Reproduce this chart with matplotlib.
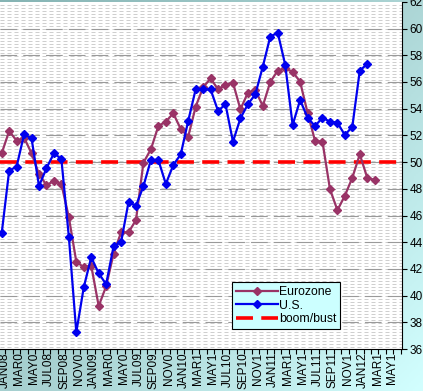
import numpy as np
import matplotlib
matplotlib.use("Agg")
import matplotlib.pyplot as plt
from matplotlib.colors import LinearSegmentedColormap

plt.rcParams['font.family'] = ['Liberation Sans', 'DejaVu Sans']

# monthly PMI readings, Jan 2008 onwards
eurozone = [50.66, 52.33, 51.6, 51.83, 50.66, 49.1, 48.28, 48.58, 48.36, 45.87,
            42.54, 42.12, 42.25, 39.22, 40.7, 43.15, 44.74, 44.74, 45.66, 49.96,
            50.96, 52.7, 53.03, 53.65, 52.48, 51.9, 54.15, 55.6, 56.27, 55.45,
            55.78, 55.95, 53.95, 55.2, 55.4, 54.2, 56.0, 56.85, 57.03, 56.77,
            56.02, 53.7, 51.6, 51.53, 47.98, 46.4, 47.48, 48.83, 50.58, 48.83,
            48.66]
us = [44.67, 49.36, 49.66, 52.08, 51.78, 48.21, 49.54, 50.66, 50.23, 44.41,
      37.25, 40.62, 42.87, 41.67, 40.85, 43.7, 44.0, 47.0, 46.73, 48.2,
      50.16, 50.16, 48.36, 49.78, 50.58, 53.08, 55.45, 55.45, 55.45, 53.83,
      54.33, 51.53, 53.28, 54.33, 55.08, 57.15, 59.4, 59.7, 57.3, 52.78,
      54.65, 53.33, 52.7, 53.33, 53.03, 52.95, 52.03, 52.65, 56.85, 57.35]
month_labels = ['JAN08', 'MAR0', 'MAY0', 'JUL08', 'SEP08', 'NOV0',
                'JAN09', 'MAR0', 'MAY0', 'JUL09', 'SEP09', 'NOV0',
                'JAN10', 'MAR1', 'MAY1', 'JUL10', 'SEP10', 'NOV1',
                'JAN11', 'MAR1', 'MAY1', 'JUL11', 'SEP11', 'NOV1',
                'JAN12', 'MAR1', 'MAY1']
n_months = 54
boom_bust = 50

W, H = 423, 391
fig = plt.figure(figsize=(W / 100, H / 100), dpi=100)

# gradient background (excel style teal fill)
bg = fig.add_axes([0, 0, 1, 1], zorder=-10)
xx, yy = np.meshgrid(np.linspace(0, 1, 200), np.linspace(0, 1, 200))
grad = 0.55 * xx + 0.45 * yy
cmap = LinearSegmentedColormap.from_list('tealfill', ['#86b4b4', '#a9d2d2', '#d2ffff'])
bg.imshow(grad, cmap=cmap, aspect='auto', extent=[0, 1, 0, 1], origin='upper')
bg.axis('off')

ax = fig.add_axes([0, (H - 349) / H, 402 / W, (349 - 1.9) / H])
ax.set_facecolor('white')
ax.set_xlim(-0.228, 53.66)
ax.set_ylim(36, 62)

# hatched pattern of the plot area
px_per_unit = 13.35
for k in range(1, 116):
    yv = 62 - (k * 3 - 0.3) / px_per_unit
    if yv <= 36:
        break
    ax.axhline(yv, color='#cfcfcf', lw=0.72, ls=(0, (4, 3)), zorder=0)
for yv in range(38, 62, 2):
    ax.axhline(yv, color='#9a9a9a', lw=0.8, ls=(0, (15, 5.5)), zorder=1)

idx_e = np.arange(len(eurozone))
idx_u = np.arange(len(us))
ax.plot(idx_e, eurozone, color='#993366', lw=1.6, marker='D', ms=3.6,
        label='Eurozone', zorder=3)
ax.plot(idx_u, us, color='#0000ee', lw=1.6, marker='D', ms=3.6,
        label='U.S.', zorder=4)
ax.axhline(boom_bust, color='#ff0000', lw=2.6, ls=(0, (4.7, 2.3)),
           label='boom/bust', zorder=2)

for s in ['top', 'left']:
    ax.spines[s].set_visible(False)
ax.spines['right'].set_linewidth(0.8)
ax.spines['bottom'].set_linewidth(0.8)

ax.yaxis.tick_right()
ax.set_yticks(range(36, 63, 2))
ax.tick_params(axis='y', direction='out', length=3.5, width=0.8, pad=2,
               labelsize=8.5)

ax.set_xticks(np.arange(n_months) + 0.5)
ax.set_xticklabels([])
ax.tick_params(axis='x', which='major', direction='out', length=3.5, width=0.8)
ax.set_xticks(np.arange(0, n_months - 1, 2) + 0.38, minor=True)
ax.set_xticklabels(month_labels, minor=True, rotation=90, fontsize=8.5)
ax.tick_params(axis='x', which='minor', length=0, pad=2.5)

leg = ax.legend(loc='lower left', bbox_to_anchor=(231.7 / W, (H - 329.3) / H),
                bbox_transform=fig.transFigure, fontsize=8.8, fancybox=False,
                framealpha=1, facecolor='#ccffff', edgecolor='black',
                handlelength=3.4, labelspacing=0.12, borderpad=0.35,
                handletextpad=0.1, borderaxespad=0, numpoints=1)
leg.get_frame().set_linewidth(0.8)

fig.savefig('out.png', dpi=100)
